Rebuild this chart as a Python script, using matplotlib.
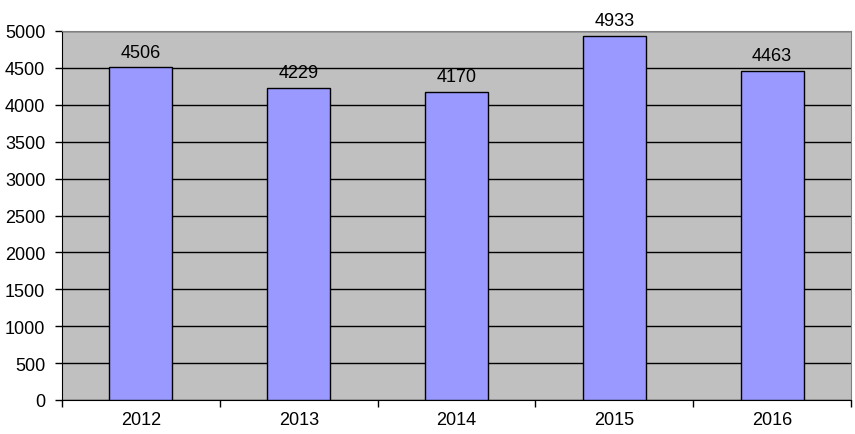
import matplotlib
matplotlib.use("Agg")
import matplotlib.pyplot as plt
import numpy as np

years = ["2012", "2013", "2014", "2015", "2016"]
values = [4506, 4229, 4170, 4933, 4463]

plt.rcParams["font.family"] = ["Liberation Sans", "DejaVu Sans"]
fig = plt.figure(figsize=(8.55, 4.35), dpi=100)
ax = fig.add_axes([62/855, 1-401/435, (851-62)/855, (401-32)/435])
ax.set_facecolor("#c0c0c0")
x = np.arange(len(years))
bars = ax.bar(x, values, width=0.4, color="#9999ff", edgecolor="black", linewidth=1, zorder=3)
ax.set_xlim(-0.5, len(years)-0.5)
ax.set_ylim(0, 5000)
ax.set_yticks(range(0, 5001, 500))
ax.yaxis.grid(True, color="black", linewidth=1, zorder=1)
ax.set_axisbelow(True)
ax.set_xticks(x)
ax.set_xticklabels(years)
ax.set_xticks(np.arange(-0.5, len(years)), minor=True)
ax.tick_params(axis="x", which="major", length=0, pad=8, labelsize=13)
ax.tick_params(axis="x", which="minor", length=5, width=1, color="black")
ax.tick_params(axis="y", length=5, width=1, labelsize=13, pad=7)
for s in ["top", "right"]:
    ax.spines[s].set_color("#808080")
for s in ["left", "bottom"]:
    ax.spines[s].set_color("black")
for b, v in zip(bars, values):
    ax.annotate(str(v), (b.get_x()+b.get_width()/2, v), xytext=(0, 5),
                textcoords="offset points", ha="center", va="bottom", fontsize=13)
fig.savefig("out.png", dpi=100)
